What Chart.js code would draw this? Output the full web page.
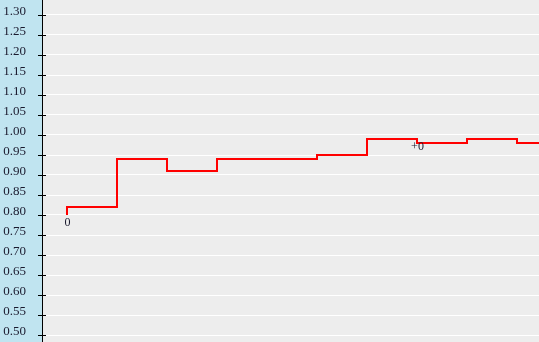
<!DOCTYPE html>
<html>
<head>
<meta charset="utf-8">
<script src="https://cdn.jsdelivr.net/npm/chart.js@4/dist/chart.umd.min.js"></script>
<style>
  html, body { margin: 0; padding: 0; background: #ededed; }
  #chart { display: block; }
</style>
</head>
<body>
<canvas id="chart" width="539" height="342"></canvas>
<script>
// step positions along the x axis and the value reached at each one
const steps = [0, 1, 2, 3, 4, 5, 6, 7, 8, 9, 10]
const values = [0.80, 0.82, 0.94, 0.91, 0.94, 0.94, 0.95, 0.99, 0.98, 0.99, 0.98]
const pointNotes = ['0', '', '', '', '', '', '', '+0', '', '', '']
const yTicks = [0.50, 0.55, 0.60, 0.65, 0.70, 0.75, 0.80, 0.85, 0.90, 0.95,
                1.00, 1.05, 1.10, 1.15, 1.20, 1.25, 1.30]

const panelBlue = 'rgb(192,228,240)'
const plotGray = '#ededed'
const textColor = '#1a1a2e'

const backdrop = {
  id: 'backdrop',
  beforeDraw(chart) {
    const ctx = chart.ctx
    const area = chart.chartArea
    ctx.save()
    ctx.fillStyle = plotGray
    ctx.fillRect(0, 0, chart.width, chart.height)
    ctx.fillStyle = panelBlue
    ctx.fillRect(0, 0, area.left, chart.height)
    ctx.restore()
  }
}

// little tick marks that cross the axis line
const crossTicks = {
  id: 'crossTicks',
  afterDraw(chart) {
    const ctx = chart.ctx
    const y = chart.scales.y
    const x0 = chart.chartArea.left
    ctx.save()
    ctx.strokeStyle = '#000'
    ctx.lineWidth = 1
    ctx.beginPath()
    yTicks.forEach(function(v) {
      const py = Math.round(y.getPixelForValue(v)) + 0.5
      ctx.moveTo(x0 - 4, py)
      ctx.lineTo(x0 + 4, py)
    })
    ctx.stroke()
    ctx.restore()
  }
}

const notes = {
  id: 'notes',
  afterDatasetsDraw(chart) {
    const ctx = chart.ctx
    const meta = chart.getDatasetMeta(0)
    ctx.save()
    ctx.font = '12px "Liberation Serif"'
    ctx.fillStyle = textColor
    ctx.textAlign = 'center'
    ctx.textBaseline = 'top'
    meta.data.forEach(function(pt, i) {
      if (pointNotes[i]) ctx.fillText(pointNotes[i], pt.x + 0.5, pt.y + 2)
    })
    ctx.restore()
  }
}

new Chart(document.getElementById('chart'), {
  type: 'line',
  data: {
    datasets: [{
      data: steps.map(function(s, i) { return {x: s, y: values[i]} }),
      stepped: 'after',
      borderColor: '#ff0000',
      borderWidth: 2,
      pointRadius: 0,
      fill: false
    }]
  },
  options: {
    responsive: false,
    devicePixelRatio: 1,
    animation: false,
    layout: { padding: 0 },
    plugins: { legend: { display: false }, tooltip: { enabled: false } },
    scales: {
      x: {
        type: 'linear',
        display: false,
        min: -0.5,
        max: 9.44
      },
      y: {
        type: 'linear',
        min: 0.4825,
        max: 1.3375,
        afterBuildTicks: function(scale) {
          scale.ticks = yTicks.map(function(v) { return {value: v} })
        },
        afterFit: function(scale) {
          scale.width = 42
          scale.paddingTop = 0
          scale.paddingBottom = 0
        },
        grid: { color: '#ffffff', lineWidth: 1, drawTicks: false },
        border: { display: true, color: '#000000', width: 1 },
        ticks: {
          padding: 16,
          labelOffset: -3,
          color: textColor,
          font: { family: '"Liberation Serif"', size: 13 },
          callback: function(v) { return Number(v).toFixed(2) }
        }
      }
    }
  },
  plugins: [backdrop, crossTicks, notes]
})
</script>
</body>
</html>
